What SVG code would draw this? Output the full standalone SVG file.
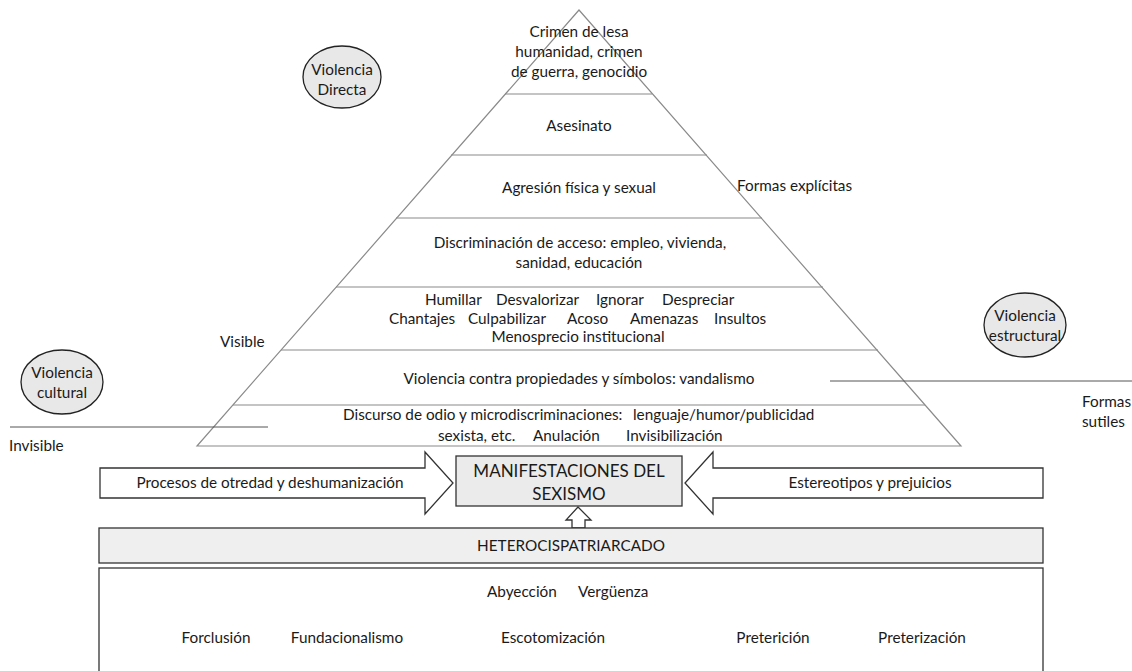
<svg xmlns="http://www.w3.org/2000/svg" width="1132" height="671" viewBox="0 0 1132 671">
<style>
text{font-family:Lato,"Liberation Sans",sans-serif;font-size:15.3px;fill:#1a1a1a}
.c{text-anchor:middle}
.pl{stroke:#8a8a8a;stroke-width:1.2;fill:none}
.hl{stroke:#555;stroke-width:1;fill:none}
.ell{fill:#e8e8e8;stroke:#222;stroke-width:1.3}
.box{stroke:#333;stroke-width:1.3}
.big{font-size:17px}
</style>
<rect width="1132" height="671" fill="#fff"/>
<g id="pyramid">
<polygon class="pl" points="579,10 197,446 961,446"/>
<line class="pl" x1="505" y1="94" x2="652" y2="94"/>
<line class="pl" x1="451" y1="155" x2="707" y2="155"/>
<line class="pl" x1="396" y1="218" x2="762" y2="218"/>
<line class="pl" x1="336" y1="287" x2="823" y2="287"/>
<line class="pl" x1="281" y1="350" x2="878" y2="350"/>
<line class="pl" x1="233" y1="405" x2="925" y2="405"/>
</g>
<g id="level1"><text class="c" x="579" y="37">Crimen de lesa</text><text class="c" x="579" y="57">humanidad, crimen</text><text class="c" x="579" y="77">de guerra, genocidio</text></g>
<g id="level2"><text class="c" x="579" y="131">Asesinato</text></g>
<g id="level3"><text class="c" x="579" y="193">Agresión física y sexual</text></g>
<g id="level4"><text class="c" x="580" y="248">Discriminación de acceso: empleo, vivienda,</text><text class="c" x="579" y="268">sanidad, educación</text></g>
<g id="level5">
<text y="305"><tspan x="425">Humillar</tspan><tspan x="496">Desvalorizar</tspan><tspan x="596">Ignorar</tspan><tspan x="662">Despreciar</tspan></text>
<text y="324"><tspan x="389">Chantajes</tspan><tspan x="468">Culpabilizar</tspan><tspan x="567">Acoso</tspan><tspan x="630">Amenazas</tspan><tspan x="714">Insultos</tspan></text>
<text class="c" x="578" y="342">Menosprecio institucional</text></g>
<g id="level6"><text class="c" x="579" y="384">Violencia contra propiedades y símbolos: vandalismo</text></g>
<g id="level7">
<text y="420"><tspan x="343">Discurso de odio y microdiscriminaciones:</tspan><tspan x="633">lenguaje/humor/publicidad</tspan></text>
<text y="441"><tspan x="438">sexista, etc.</tspan><tspan x="533">Anulación</tspan><tspan x="626">Invisibilización</tspan></text></g>
<g id="violencia-directa"><ellipse class="ell" cx="342" cy="77" rx="39" ry="31"/><text class="c" x="342" y="75">Violencia</text><text class="c" x="342" y="95">Directa</text></g>
<g id="violencia-cultural"><ellipse class="ell" cx="62" cy="382" rx="41" ry="32"/><text class="c" x="62" y="378">Violencia</text><text class="c" x="62" y="398">cultural</text></g>
<g id="violencia-estructural"><ellipse class="ell" cx="1025" cy="325" rx="41" ry="32"/><text class="c" x="1025" y="321">Violencia</text><text class="c" x="1025" y="341">estructural</text></g>
<g id="labels">
<text x="737" y="191">Formas explícitas</text>
<text x="220" y="347">Visible</text>
<text x="9" y="451">Invisible</text>
<text x="1082" y="407">Formas</text>
<text x="1082" y="427">sutiles</text>
<line class="hl" x1="10" y1="427" x2="268" y2="427"/>
<line class="hl" x1="830" y1="381" x2="1132" y2="381"/>
</g>
<g id="connectors">
<polygon class="box" fill="#fff" points="100,468 425,468 425,452 453,483 425,514 425,498 100,498"/>
<polygon class="box" fill="#fff" points="1043,468 713,468 713,452 685,483 713,514 713,498 1043,498"/>
<polygon class="box" fill="#fff" points="572,528 572,520 566,520 578,507 591,520 585,520 585,528"/>
</g>
<g id="procesos"><text class="c" x="270" y="488">Procesos de otredad y deshumanización</text></g>
<g id="estereotipos"><text class="c" x="870" y="488">Estereotipos y prejuicios</text></g>
<g id="manifestaciones"><rect class="box" x="456" y="456" width="226" height="50" fill="#ebebeb"/><text class="c big" x="569" y="477">MANIFESTACIONES DEL</text><text class="c big" x="569" y="500">SEXISMO</text></g>
<g id="heterocispatriarcado"><rect class="box" x="99" y="528" width="944" height="35" fill="#efefef"/><text class="c" x="571" y="551">HETEROCISPATRIARCADO</text></g>
<g id="base"><rect class="box" x="99" y="568" width="944" height="110" fill="#fff"/>
<text y="597"><tspan x="487">Abyección</tspan><tspan x="578">Vergüenza</tspan></text>
<text class="c" x="216" y="643">Forclusión</text>
<text class="c" x="347" y="643">Fundacionalismo</text>
<text class="c" x="553" y="643">Escotomización</text>
<text class="c" x="773" y="643">Preterición</text>
<text class="c" x="922" y="643">Preterización</text>
</g>
</svg>
